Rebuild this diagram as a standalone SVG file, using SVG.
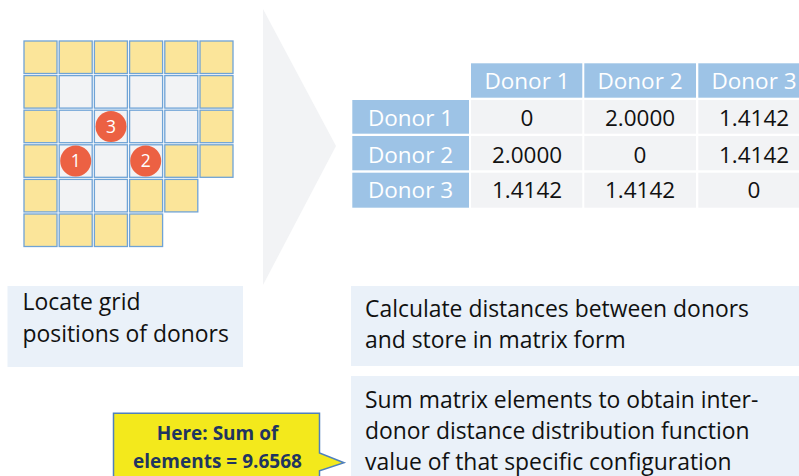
<svg xmlns="http://www.w3.org/2000/svg" width="799" height="476" viewBox="0 0 799 476">
<style>
.y{fill:#FBE59A;stroke:#6FA3D6;stroke-width:1.3}
.g{fill:#F2F3F5;stroke:#6FA3D6;stroke-width:1.3}
.dot{fill:#EC6143}
.dt{font-family:"Open Sans","Noto Sans",sans-serif;font-size:17.5px;fill:#fff;text-anchor:middle}
.hd{fill:#9DC3E6}
.bd{fill:#F2F3F5}
.ht{font-family:"Open Sans","Noto Sans",sans-serif;font-size:22.5px;fill:#fff;text-anchor:middle}
.bt{font-family:"Open Sans","Noto Sans",sans-serif;font-size:22.5px;fill:#111;text-anchor:middle}
.box{fill:#EAF1F9}
.tx{font-family:"Open Sans","Noto Sans",sans-serif;font-size:22.9px;fill:#111}
.ct{font-family:"Open Sans","Noto Sans",sans-serif;font-size:19px;font-weight:bold;fill:#1F3560;text-anchor:middle}
</style>
<polygon points="263,9 336,146 263,285" fill="#F2F3F5"/>
<g id="grid">
<rect class="y" x="24" y="41" width="33" height="32.5"/>
<rect class="y" x="59.2" y="41" width="33" height="32.5"/>
<rect class="y" x="94.4" y="41" width="33" height="32.5"/>
<rect class="y" x="129.6" y="41" width="33" height="32.5"/>
<rect class="y" x="164.8" y="41" width="33" height="32.5"/>
<rect class="y" x="200" y="41" width="33" height="32.5"/>
<rect class="y" x="24" y="75.6" width="33" height="32.5"/>
<rect class="g" x="59.2" y="75.6" width="33" height="32.5"/>
<rect class="g" x="94.4" y="75.6" width="33" height="32.5"/>
<rect class="g" x="129.6" y="75.6" width="33" height="32.5"/>
<rect class="g" x="164.8" y="75.6" width="33" height="32.5"/>
<rect class="y" x="200" y="75.6" width="33" height="32.5"/>
<rect class="y" x="24" y="110.2" width="33" height="32.5"/>
<rect class="g" x="59.2" y="110.2" width="33" height="32.5"/>
<rect class="g" x="94.4" y="110.2" width="33" height="32.5"/>
<rect class="g" x="129.6" y="110.2" width="33" height="32.5"/>
<rect class="g" x="164.8" y="110.2" width="33" height="32.5"/>
<rect class="y" x="200" y="110.2" width="33" height="32.5"/>
<rect class="y" x="24" y="144.8" width="33" height="32.5"/>
<rect class="g" x="59.2" y="144.8" width="33" height="32.5"/>
<rect class="g" x="94.4" y="144.8" width="33" height="32.5"/>
<rect class="g" x="129.6" y="144.8" width="33" height="32.5"/>
<rect class="y" x="164.8" y="144.8" width="33" height="32.5"/>
<rect class="y" x="200" y="144.8" width="33" height="32.5"/>
<rect class="y" x="24" y="179.4" width="33" height="32.5"/>
<rect class="g" x="59.2" y="179.4" width="33" height="32.5"/>
<rect class="g" x="94.4" y="179.4" width="33" height="32.5"/>
<rect class="y" x="129.6" y="179.4" width="33" height="32.5"/>
<rect class="y" x="164.8" y="179.4" width="33" height="32.5"/>
<rect class="y" x="24" y="214" width="33" height="32.5"/>
<rect class="y" x="59.2" y="214" width="33" height="32.5"/>
<rect class="y" x="94.4" y="214" width="33" height="32.5"/>
<rect class="y" x="129.6" y="214" width="33" height="32.5"/>
</g>
<g id="donor3"><circle class="dot" cx="111" cy="126.5" r="15.5"/><text class="dt" x="111" y="132.7">3</text></g>
<g id="donor1"><circle class="dot" cx="75.7" cy="161" r="15.5"/><text class="dt" x="75.7" y="167.2">1</text></g>
<g id="donor2"><circle class="dot" cx="145.7" cy="161" r="15.5"/><text class="dt" x="145.7" y="167.2">2</text></g>
<g id="matrix">
<rect class="hd" x="471" y="63.3" width="111.3" height="34.4"/>
<rect class="hd" x="584.3" y="63.3" width="111.7" height="34.4"/>
<rect class="hd" x="698.3" y="63.3" width="101" height="34.4"/>
<rect class="hd" x="352.3" y="100" width="116.7" height="33.7"/>
<rect class="hd" x="352.3" y="136" width="116.7" height="34.3"/>
<rect class="hd" x="352.3" y="172.7" width="116.7" height="35"/>
<rect class="bd" x="471" y="100" width="111.3" height="33.7"/>
<rect class="bd" x="584.3" y="100" width="111.7" height="33.7"/>
<rect class="bd" x="698.3" y="100" width="101" height="33.7"/>
<rect class="bd" x="471" y="136" width="111.3" height="34.3"/>
<rect class="bd" x="584.3" y="136" width="111.7" height="34.3"/>
<rect class="bd" x="698.3" y="136" width="101" height="34.3"/>
<rect class="bd" x="471" y="172.7" width="111.3" height="35"/>
<rect class="bd" x="584.3" y="172.7" width="111.7" height="35"/>
<rect class="bd" x="698.3" y="172.7" width="101" height="35"/>
<text class="ht" x="527" y="89">Donor 1</text>
<text class="ht" x="640" y="89">Donor 2</text>
<text class="ht" x="754" y="89">Donor 3</text>
<text class="ht" x="410.5" y="126">Donor 1</text>
<text class="ht" x="410.5" y="162.5">Donor 2</text>
<text class="ht" x="410.5" y="198">Donor 3</text>
<text class="bt" x="527" y="126">0</text>
<text class="bt" x="640" y="126">2.0000</text>
<text class="bt" x="754" y="126">1.4142</text>
<text class="bt" x="527" y="162.5">2.0000</text>
<text class="bt" x="640" y="162.5">0</text>
<text class="bt" x="754" y="162.5">1.4142</text>
<text class="bt" x="527" y="198">1.4142</text>
<text class="bt" x="640" y="198">1.4142</text>
<text class="bt" x="754" y="198">0</text>
</g>
<g id="step1"><rect class="box" x="7.5" y="286" width="235.5" height="81"/>
<text class="tx" x="22.5" y="310">Locate grid</text>
<text class="tx" x="22.5" y="341.5">positions of donors</text></g>
<g id="step2"><rect class="box" x="351" y="286" width="448" height="80"/>
<text class="tx" x="365" y="317">Calculate distances between donors</text>
<text class="tx" x="365" y="348">and store in matrix form</text></g>
<g id="step3"><rect class="box" x="351" y="376" width="448" height="100"/>
<text class="tx" x="365" y="408">Sum matrix elements to obtain inter-</text>
<text class="tx" x="365" y="439">donor distance distribution function</text>
<text class="tx" x="365" y="470">value of that specific configuration</text></g>
<g id="callout">
<path d="M113.5,480 L113.5,413.3 L319.5,413.3 L319.5,453 L344,462.7 L319.5,470.7 L319.5,480" fill="#F3E91C" stroke="#4F80BD" stroke-width="1.5"/>
<text class="ct" x="217.5" y="440">Here: Sum of</text>
<text class="ct" x="217.5" y="468">elements = 9.6568</text>
</g>
</svg>
